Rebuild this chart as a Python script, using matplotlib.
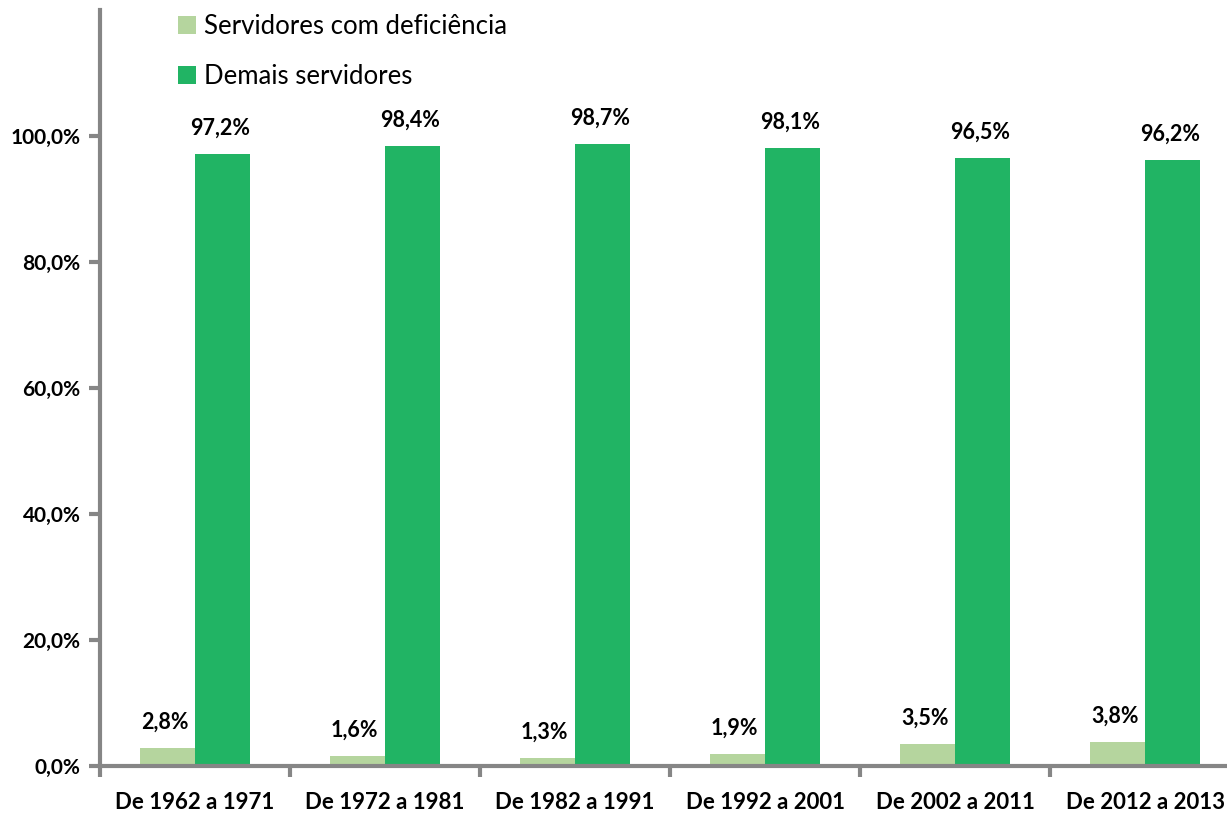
import matplotlib.pyplot as plt
import numpy as np

plt.rcParams['font.family'] = ['Lato', 'DejaVu Sans']

periodos = ['De 1962 a 1971', 'De 1972 a 1981', 'De 1982 a 1991',
            'De 1992 a 2001', 'De 2002 a 2011', 'De 2012 a 2013']
com_deficiencia = [2.8, 1.6, 1.3, 1.9, 3.5, 3.8]
demais = [97.2, 98.4, 98.7, 98.1, 96.5, 96.2]

cor_claro = '#B5D59E'
cor_escuro = '#21B464'
cor_eixo = '#868686'

fig = plt.figure(figsize=(12.27, 8.15), dpi=100)
# o eixo passa da borda direita, como no original
ax = fig.add_axes([100 / 1227, 49 / 815, 1140 / 1227, 756 / 815])

x = np.arange(len(periodos))
w = 0.29
b1 = ax.bar(x - w / 2, com_deficiencia, w, color=cor_claro, label='Servidores com deficiência')
b2 = ax.bar(x + w / 2, demais, w, color=cor_escuro, label='Demais servidores')

for bars, vals in [(b1, com_deficiencia), (b2, demais)]:
    for bar, v in zip(bars, vals):
        ax.annotate(f'{v:.1f}%'.replace('.', ','),
                    (bar.get_x() + bar.get_width() / 2, v),
                    xytext=(-2, 11), textcoords='offset points',
                    ha='center', va='bottom', fontsize=15.5, fontweight='bold')

ax.set_xlim(-0.5, len(periodos) - 0.5)
ax.set_ylim(0, 120)
ax.set_yticks(np.arange(0, 101, 20))
ax.set_yticklabels([f'{t:.1f}%'.replace('.', ',') for t in np.arange(0, 101, 20)],
                   fontsize=15, fontweight='bold')
ax.set_xticks(x)
ax.set_xticklabels(periodos, fontsize=16, fontweight='bold')
ax.tick_params(axis='x', which='major', length=0, pad=19)
ax.set_xticks(np.arange(-0.5, len(periodos), 1), minor=True)
ax.tick_params(axis='x', which='minor', length=8, width=3, color=cor_eixo)
ax.tick_params(axis='y', length=8, width=3, color=cor_eixo, pad=6)

for s in ['top', 'right']:
    ax.spines[s].set_visible(False)
for s in ['left', 'bottom']:
    ax.spines[s].set_color(cor_eixo)
    ax.spines[s].set_linewidth(3)

ax.legend(loc='upper left', bbox_to_anchor=(0.048, 1.025), frameon=False,
          fontsize=18.5, handlelength=0.7, handleheight=0.7, handletextpad=0.3,
          labelspacing=0.95)

fig.savefig('out.png', dpi=100, facecolor='white')
